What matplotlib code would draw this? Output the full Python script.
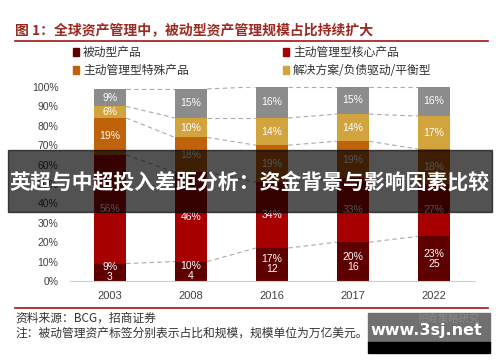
import matplotlib
matplotlib.use("Agg")
import matplotlib.pyplot as plt
import numpy as np
from matplotlib.patches import Rectangle
from matplotlib.lines import Line2D

# ---------------------------------------------------------------------------
# Data
# ---------------------------------------------------------------------------
years = ["2003", "2008", "2016", "2017", "2022"]
passive = [9, 10, 17, 20, 23]          # 被动型产品 (share, %)
passive_scale = [3, 4, 12, 16, 25]     # 规模, 万亿美元
active_core = [56, 46, 34, 33, 27]     # 主动管理型核心产品
active_special = [19, 18, 19, 19, 18]  # 主动管理型特殊产品
solutions = [6, 10, 14, 14, 17]        # 解决方案/负债驱动/平衡型
alternatives = [9, 15, 16, 15, 16]     # 其他 (grey, not in legend)

series_names = ["被动型产品", "主动管理型核心产品", "主动管理型特殊产品", "解决方案/负债驱动/平衡型"]
colors = ["#5e0000", "#a60000", "#c0620a", "#d2a43e", "#8c8c8c"]

CJK = ["Noto Sans CJK SC", "DejaVu Sans"]
LAT = ["Liberation Sans", "DejaVu Sans"]
TITLE_RED = "#9b2a22"
LINE_RED = "#a31515"

fig = plt.figure(figsize=(5.0, 3.62), dpi=100)
ax = fig.add_axes([0.139, 0.2238, 0.81, 0.536])

stack = [passive, active_core, active_special, solutions, alternatives]
x = np.arange(len(years))
w = 0.4
bottom = np.zeros(len(years))
tops = []
for vals, col in zip(stack, colors):
    vals = np.array(vals, dtype=float)
    ax.bar(x, vals, w, bottom=bottom, color=col, edgecolor="none", zorder=2)
    bottom = bottom + vals
    tops.append(bottom.copy())

# segment labels
cum = np.zeros(len(years))
for k, vals in enumerate(stack):
    for i, v in enumerate(vals):
        yc = cum[i] + v / 2
        if k == 0:
            ax.text(x[i], yc, f"{v}%\n{passive_scale[i]}", ha="center", va="center",
                    color="white", fontsize=7.5, family=LAT, linespacing=1.0, zorder=3)
        else:
            ax.text(x[i], yc, f"{v}%", ha="center", va="center",
                    color="white", fontsize=7.5, family=LAT, zorder=3)
    cum = cum + np.array(vals)

# dashed connectors between segment boundaries
for lvl in tops:
    lvl = np.minimum(lvl, 100)
    for i in range(len(years) - 1):
        ax.plot([x[i] + w / 2, x[i + 1] - w / 2], [lvl[i], lvl[i + 1]],
                ls=(0, (4, 3)), color="#a8a8a8", lw=0.8, zorder=1)

ax.set_xlim(-0.5, 4.5)
ax.set_ylim(0, 100)
ax.set_yticks(np.arange(0, 101, 10))
ax.set_yticklabels([f"{t}%" for t in range(0, 101, 10)], family=LAT, fontsize=7.5, color="#404040")
ax.set_xticks(x)
ax.set_xticklabels(years, family=LAT, fontsize=8, color="#404040")
ax.tick_params(axis="y", length=0, pad=8)
ax.tick_params(axis="x", length=0, pad=7)
for s in ["top", "right", "left"]:
    ax.spines[s].set_visible(False)
ax.spines["bottom"].set_color("#d0d0d0")
ax.spines["bottom"].set_linewidth(0.8)

# title and rules
fig.text(0.03, 0.917, "图 1：全球资产管理中，被动型资产管理规模占比持续扩大",
         family=CJK, fontsize=10, fontweight="bold", color=TITLE_RED, va="center")
fig.add_artist(Line2D([0.03, 0.976], [0.887, 0.887], color=LINE_RED, lw=1.2))
fig.add_artist(Line2D([0.03, 0.976], [0.149, 0.149], color=LINE_RED, lw=1.2))

# legend (two columns, two rows)
leg_pos = [(0.148, 0.856), (0.568, 0.856), (0.148, 0.806), (0.568, 0.806)]
for (lx, ly), name, col in zip(leg_pos, series_names, colors[:4]):
    fig.add_artist(Rectangle((lx - 0.002, ly - 0.011), 0.012, 0.022, color=col,
                             transform=fig.transFigure))
    fig.text(lx + 0.018, ly, name, family=CJK, fontsize=8.5, color="#333333", va="center")

# footnotes
fig.text(0.03, 0.121, "资料来源：BCG，招商证券", family=CJK, fontsize=8.5, color="#333333", va="center")
fig.text(0.03, 0.080, "注：被动管理资产标签分别表示占比和规模，规模单位为万亿美元。",
         family=CJK, fontsize=8.5, color="#333333", va="center")

# overlay banner
fig.add_artist(Rectangle((0.016, 0.414), 0.968, 0.171, color="black", alpha=0.68,
                         transform=fig.transFigure, zorder=10))
fig.text(0.5, 0.497, "英超与中超投入差距分析：资金背景与影响因素比较", family=CJK,
         fontsize=15, fontweight="bold", color="white", ha="center", va="center", zorder=11)

# watermark box
fig.add_artist(Rectangle((0.736, 0.053), 0.244, 0.083, color="#707070",
                         transform=fig.transFigure, zorder=10))
fig.add_artist(Rectangle((0.736, 0.025), 0.244, 0.029, color="black",
                         transform=fig.transFigure, zorder=10))
fig.text(0.96, 0.12, "招商策略研究", family=CJK, fontsize=7.5, color="#8a8a8a",
         ha="right", va="center", zorder=11)
fig.text(0.852, 0.086, "www.3sj.net", family=["DejaVu Sans"], fontsize=11.5,
         fontweight="bold", color="white", ha="center", va="center", zorder=11)

fig.savefig("out.png", dpi=100)
